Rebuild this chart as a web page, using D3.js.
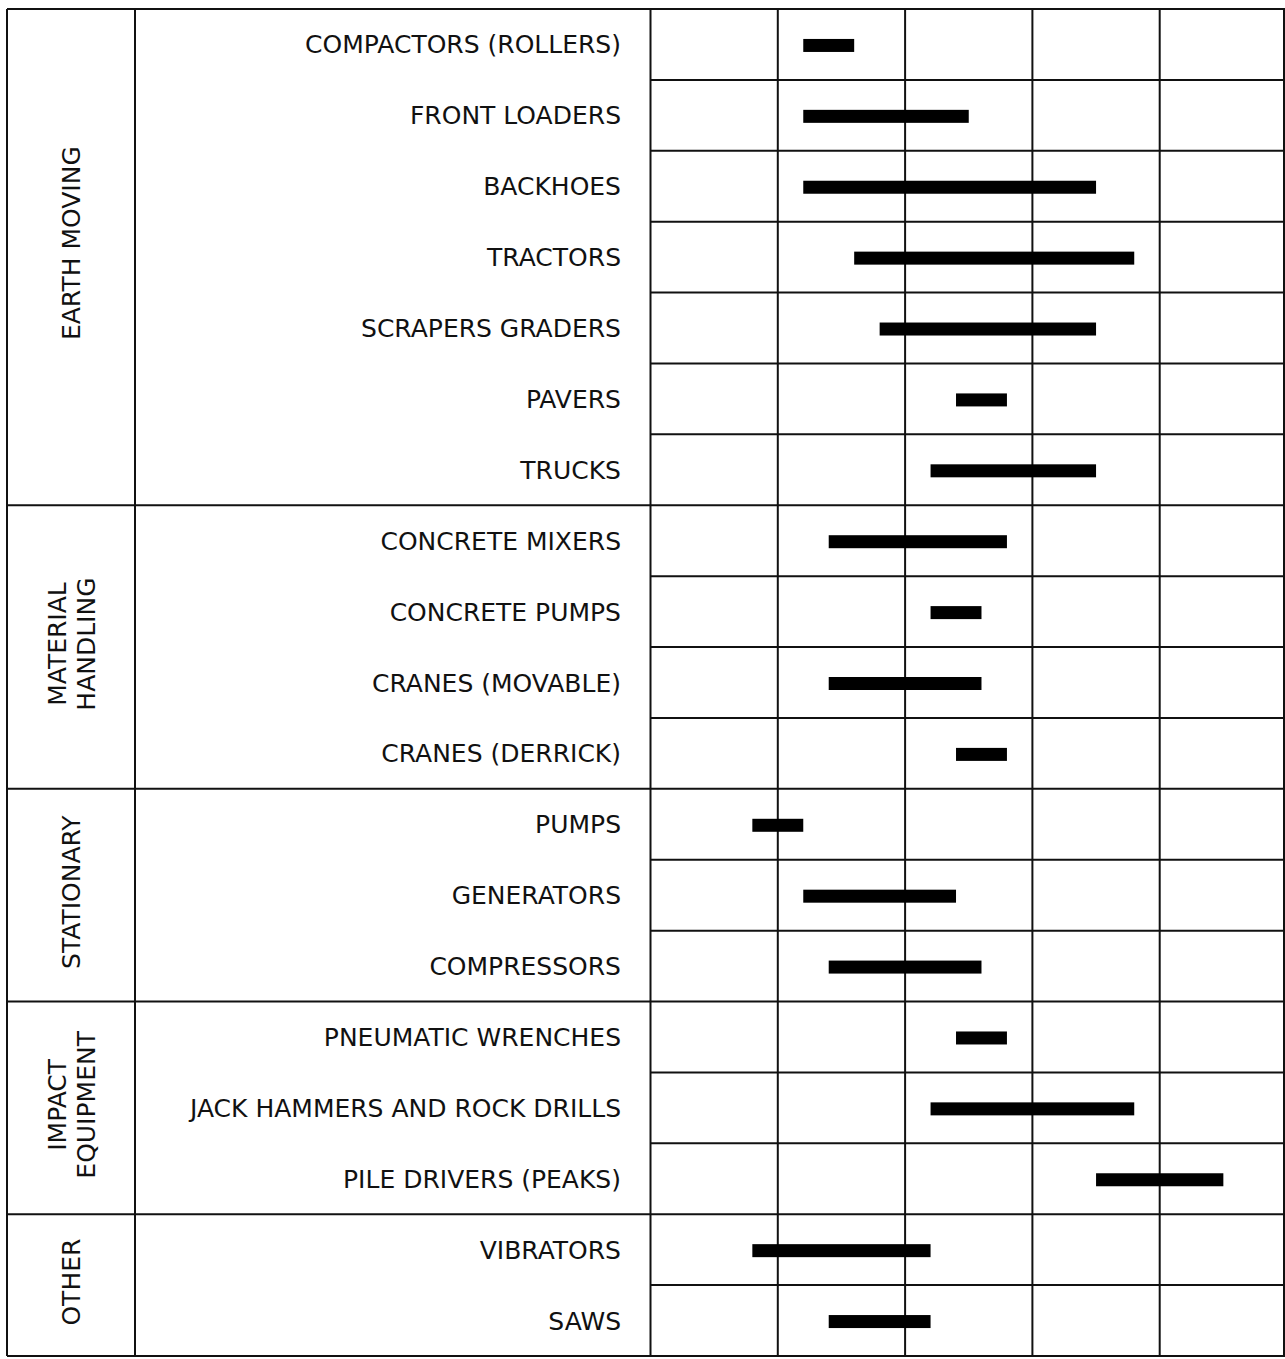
<!DOCTYPE html>
<html>
<head>
<meta charset="utf-8">
<script src="https://cdn.jsdelivr.net/npm/d3@7/dist/d3.min.js"></script>
<style>
  html, body { margin: 0; padding: 0; background: #fff; }
  svg { display: block; }
  text { font-family: "DejaVu Sans", Verdana, sans-serif; fill: #111; }
</style>
</head>
<body>
<svg id="chart" width="1285" height="1359"></svg>
<script>
// ---- data ----
const groupLines = [["EARTH MOVING"], ["MATERIAL", "HANDLING"], ["STATIONARY"], ["IMPACT", "EQUIPMENT"], ["OTHER"]];
const categories = [
  "COMPACTORS (ROLLERS)", "FRONT LOADERS", "BACKHOES", "TRACTORS", "SCRAPERS GRADERS", "PAVERS", "TRUCKS",
  "CONCRETE MIXERS", "CONCRETE PUMPS", "CRANES (MOVABLE)", "CRANES (DERRICK)",
  "PUMPS", "GENERATORS", "COMPRESSORS",
  "PNEUMATIC WRENCHES", "JACK HAMMERS AND ROCK DRILLS", "PILE DRIVERS (PEAKS)",
  "VIBRATORS", "SAWS"
];
const categoryGroup = [0,0,0,0,0,0,0, 1,1,1,1, 2,2,2, 3,3,3, 4,4];
const lowValues  = [72, 72, 72, 76, 78, 84, 82, 74, 82, 74, 84, 68, 72, 74, 84, 82, 95, 68, 74];
const highValues = [76, 85, 95, 98, 95, 88, 95, 88, 86, 86, 88, 72, 84, 86, 88, 98, 105, 82, 82];
const gridTicks = [60, 70, 80, 90, 100, 110];

// ---- layout ----
const svg = d3.select("#chart");
const yTop = 9, yBottom = 1356;
const xLeft = 7, xGroupDiv = 135, xChart = 650.5, xRight = 1287;
const labelRight = 621;
const lw = 2;

const x = d3.scaleLinear().domain([60, 110]).range([xChart, xRight]);
const y = d3.scaleBand().domain(categories).range([yTop, yBottom]).paddingInner(0).paddingOuter(0);
const bh = 13;

const groupIdx = d3.range(groupLines.length);
const groupRange = groupIdx.map(g => {
  const rows = categories.filter((c, i) => categoryGroup[i] === g);
  return [y(rows[0]), y(rows[rows.length - 1]) + y.bandwidth()];
});

const lines = svg.append("g").attr("stroke", "#111").attr("stroke-width", lw).attr("fill", "none");

categories.forEach((c, i) => {
  if (i === 0) return;
  const yy = y(c);
  const isGroupStart = categoryGroup[i] !== categoryGroup[i - 1];
  lines.append("line")
    .attr("x1", isGroupStart ? xLeft : xChart).attr("x2", xRight)
    .attr("y1", yy).attr("y2", yy);
});

lines.append("line").attr("x1", xLeft).attr("x2", xRight).attr("y1", yTop).attr("y2", yTop);
lines.append("line").attr("x1", xLeft).attr("x2", xRight).attr("y1", yBottom).attr("y2", yBottom);
[xLeft, xGroupDiv].forEach(xx => {
  lines.append("line").attr("x1", xx).attr("x2", xx).attr("y1", yTop).attr("y2", yBottom);
});
gridTicks.forEach(t => {
  const xx = Math.min(x(t), 1284);
  lines.append("line").attr("x1", xx).attr("x2", xx).attr("y1", yTop).attr("y2", yBottom);
});

svg.append("g").selectAll("rect").data(categories).join("rect")
  .attr("x", (d, i) => x(lowValues[i]))
  .attr("width", (d, i) => x(highValues[i]) - x(lowValues[i]))
  .attr("y", d => y(d) + y.bandwidth() / 2 - bh / 2 + 1)
  .attr("height", bh)
  .attr("fill", "#000");

svg.append("g").selectAll("text").data(categories).join("text")
  .attr("x", labelRight)
  .attr("y", d => y(d) + y.bandwidth() / 2)
  .attr("dy", "0.36em")
  .attr("text-anchor", "end")
  .attr("font-size", 25)
  .text(d => d);

const gcx = (xLeft + xGroupDiv) / 2;
groupIdx.forEach(g => {
  const cy = (groupRange[g][0] + groupRange[g][1]) / 2 - (g === 0 ? 14 : 3);
  const ls = groupLines[g];
  const spacing = 29;
  ls.forEach((txt, k) => {
    const cx = gcx + (k - (ls.length - 1) / 2) * spacing;
    svg.append("text")
      .attr("transform", `translate(${cx},${cy}) rotate(-90)`)
      .attr("text-anchor", "middle")
      .attr("dy", "0.36em")
      .attr("font-size", 25)
      .text(txt);
  });
});
</script>
</body>
</html>
